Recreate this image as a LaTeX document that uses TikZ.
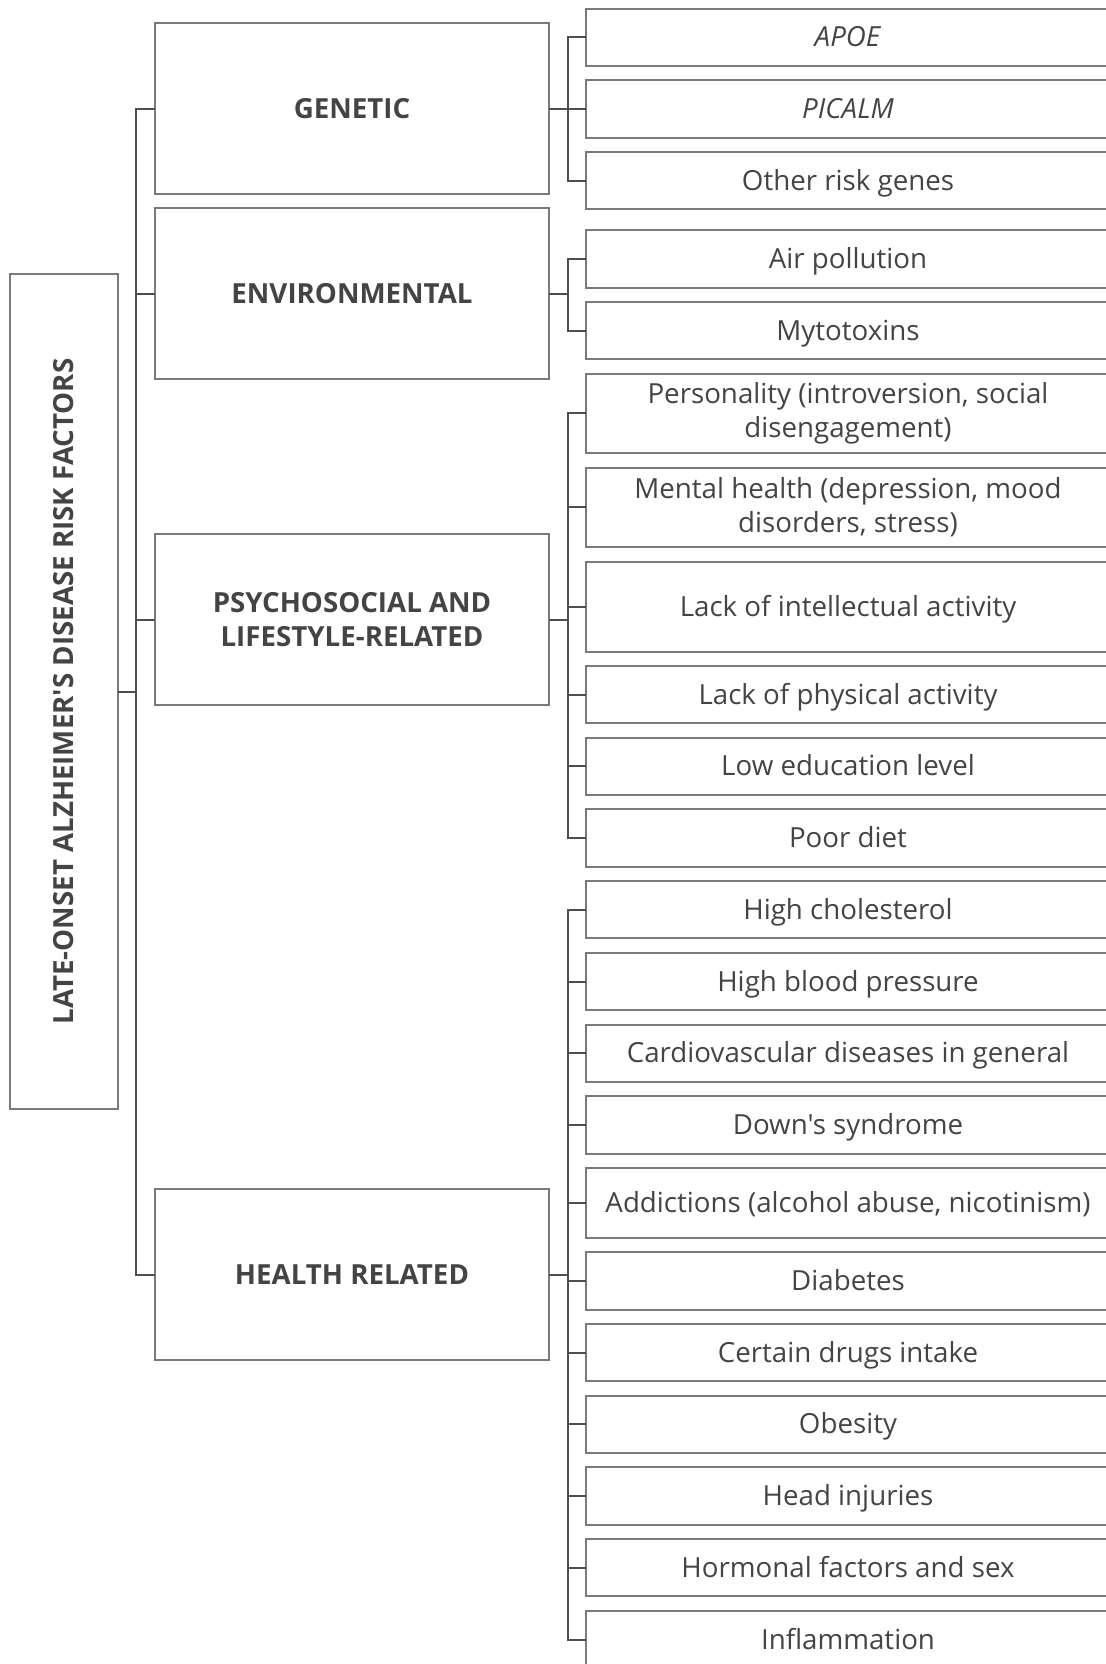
\documentclass[tikz,border=0pt]{standalone}
\usepackage{fontspec}
\setmainfont{Open Sans}[Ligatures=TeXOff]
\usepackage{graphicx}
\usepackage{xcolor}
\definecolor{ink}{RGB}{68,68,68}
\definecolor{edge}{RGB}{122,122,122}
\definecolor{wire}{RGB}{78,78,78}
\usepackage{tikz}
\usetikzlibrary{positioning}

\begin{document}
\begin{tikzpicture}[
  x=1pt,y=-1pt,
  node distance=14.4pt,
  every node/.style={text=ink,font=\fontsize{27.7}{34}\selectfont},
  leaf/.style={rectangle,draw=edge,line width=2pt,outer sep=0pt,inner sep=0pt,minimum width=524pt,minimum height=57.3pt,align=center,text height=25pt,text depth=6pt},
  twoline/.style={text height=,text depth=,minimum height=79.6pt},
  cat/.style={rectangle,draw=edge,line width=2pt,outer sep=0pt,minimum width=394pt,minimum height=171pt,align=center,font=\fontsize{27.7}{34}\selectfont\bfseries},
  link/.style={draw=wire,line width=2pt}
]
  \useasboundingbox (0,0) rectangle (1105,1664);

  % root
  \node[rectangle,draw=edge,line width=2pt,outer sep=0pt,minimum width=108pt,minimum height=835pt] (root) at (63.7,691.5) {\rotatebox{90}{\bfseries LATE-ONSET ALZHEIMER'S DISEASE RISK FACTORS}};

  % groups
  \node[cat] (genetic) at (352,108.8) {GENETIC};
  \node[cat] (environ) at (352,293.5) {ENVIRONMENTAL};
  \node[cat] (psycho) at (352,619.5) {PSYCHOSOCIAL AND\\LIFESTYLE-RELATED};
  \node[cat] (health) at (352,1274.5) {HEALTH RELATED};

  % factors
  \node[leaf] (apoe) at (848,37.2) {\textit{APOE}};
  \node[leaf,below=of apoe] (picalm) {\textit{PICALM}};
  \node[leaf,below=of picalm] (genes) {Other risk genes};
  \node[leaf,below=21pt of genes] (air) {Air pollution};
  \node[leaf,below=of air] (myto) {Mytotoxins};
  \node[leaf,twoline,below=of myto] (person) {Personality (introversion, social\\disengagement)};
  \node[leaf,twoline,below=of person] (mental) {Mental health (depression, mood\\disorders, stress)};
  \node[leaf,below=of mental,minimum height=90pt] (intel) {Lack of intellectual activity};
  \node[leaf,below=of intel] (phys) {Lack of physical activity};
  \node[leaf,below=of phys] (edu) {Low education level};
  \node[leaf,below=of edu] (diet) {Poor diet};
  \node[leaf,below=of diet] (chol) {High cholesterol};
  \node[leaf,below=of chol] (bp) {High blood pressure};
  \node[leaf,below=of bp] (cvd) {Cardiovascular diseases in general};
  \node[leaf,below=of cvd] (down) {Down's syndrome};
  \node[leaf,below=of down,minimum height=70pt] (addict) {Addictions (alcohol abuse, nicotinism)};
  \node[leaf,below=of addict] (diab) {Diabetes};
  \node[leaf,below=of diab] (drugs) {Certain drugs intake};
  \node[leaf,below=of drugs] (obes) {Obesity};
  \node[leaf,below=of obes] (head) {Head injuries};
  \node[leaf,below=of head] (horm) {Hormonal factors and sex};
  \node[leaf,below=of horm] (inflam) {Inflammation};

  % root to groups
  \draw[link] (root.east) -- ++(18,0) |- (genetic.west);
  \draw[link] (root.east) -- ++(18,0) |- (environ.west);
  \draw[link] (root.east) -- ++(18,0) |- (psycho.west);
  \draw[link] (root.east) -- ++(18,0) |- (health.west);

  % groups to factors
  \draw[link] (genetic.east) -- ++(19,0) |- (apoe.west);
  \draw[link] (genetic.east) -- ++(19,0) |- (picalm.west);
  \draw[link] (genetic.east) -- ++(19,0) |- (genes.west);
  \draw[link] (environ.east) -- ++(19,0) |- (air.west);
  \draw[link] (environ.east) -- ++(19,0) |- (myto.west);
  \draw[link] (psycho.east) -- ++(19,0) |- (person.west);
  \draw[link] (psycho.east) -- ++(19,0) |- (mental.west);
  \draw[link] (psycho.east) -- ++(19,0) |- (intel.west);
  \draw[link] (psycho.east) -- ++(19,0) |- (phys.west);
  \draw[link] (psycho.east) -- ++(19,0) |- (edu.west);
  \draw[link] (psycho.east) -- ++(19,0) |- (diet.west);
  \draw[link] (health.east) -- ++(19,0) |- (chol.west);
  \draw[link] (health.east) -- ++(19,0) |- (bp.west);
  \draw[link] (health.east) -- ++(19,0) |- (cvd.west);
  \draw[link] (health.east) -- ++(19,0) |- (down.west);
  \draw[link] (health.east) -- ++(19,0) |- (addict.west);
  \draw[link] (health.east) -- ++(19,0) |- (diab.west);
  \draw[link] (health.east) -- ++(19,0) |- (drugs.west);
  \draw[link] (health.east) -- ++(19,0) |- (obes.west);
  \draw[link] (health.east) -- ++(19,0) |- (head.west);
  \draw[link] (health.east) -- ++(19,0) |- (horm.west);
  \draw[link] (health.east) -- ++(19,0) |- (inflam.west);
\end{tikzpicture}
\end{document}
